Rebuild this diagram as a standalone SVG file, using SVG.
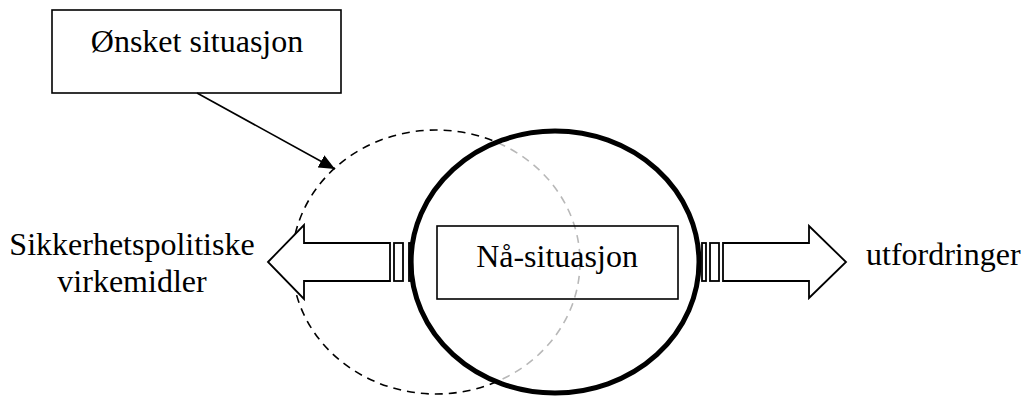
<svg xmlns="http://www.w3.org/2000/svg" width="1021" height="396" viewBox="0 0 1021 396">
  <style>
    .label { font-family: "Liberation Serif", "Times New Roman", serif; font-size: 32px; fill: #000; }
    .box { fill: #fff; stroke: #000; stroke-width: 1.6; }
    .frame { fill: none; stroke: #000; stroke-width: 1.6; }
    .arrow { fill: #fff; stroke: #000; stroke-width: 1.8; stroke-linejoin: miter; }
    .dashed { fill: none; stroke: #000; stroke-width: 1.6; stroke-dasharray: 8 6; }
  </style>
  <defs>
    <marker id="head" viewBox="0 0 10 10" refX="10" refY="5" markerWidth="10" markerHeight="10" markerUnits="userSpaceOnUse" orient="auto">
      <path d="M0,0 L10,5 L0,10 z" fill="#000"/>
    </marker>
    <marker id="headL" viewBox="0 0 16 14" refX="16" refY="7" markerWidth="16" markerHeight="14" markerUnits="userSpaceOnUse" orient="auto">
      <path d="M0,0 L16,7 L0,14 z" fill="#000"/>
    </marker>
  </defs>

  <!-- desired situation: dashed outline -->
  <g id="desired-circle">
    <ellipse class="dashed" cx="436" cy="262" rx="144" ry="132"/>
  </g>

  <!-- striped arrows to the left and right -->
  <g id="arrow-left">
    <polygon class="arrow" points="268,262 304,225 304,243 390,243 390,281 304,281 304,299"/>
    <rect class="arrow" x="394" y="243" width="9" height="38"/>
    <rect class="arrow" x="409" y="243" width="4" height="38"/>
  </g>
  <g id="arrow-right">
    <rect class="arrow" x="702" y="243" width="4" height="38"/>
    <rect class="arrow" x="710" y="243" width="9" height="38"/>
    <polygon class="arrow" points="723,243 809,243 809,226 846,262 809,298 809,281 723,281"/>
  </g>

  <!-- current situation: heavy outline with translucent fill -->
  <g id="current-circle">
    <ellipse cx="555" cy="262" rx="144" ry="131" fill="#fff" fill-opacity="0.72" stroke="#000" stroke-width="5"/>
  </g>

  <g id="current-box">
    <rect class="frame" x="437" y="226" width="241" height="73"/>
    <text class="label" x="557" y="267" text-anchor="middle">Nå-situasjon</text>
  </g>

  <g id="desired-box">
    <rect class="box" x="52" y="10" width="289" height="83"/>
    <text class="label" x="197" y="52" text-anchor="middle">Ønsket situasjon</text>
  </g>

  <g id="means-label">
    <text class="label" x="132" y="255" text-anchor="middle">Sikkerhetspolitiske</text>
    <text class="label" x="132" y="292" text-anchor="middle">virkemidler</text>
  </g>

  <g id="challenges-label">
    <text class="label" x="866" y="265">utfordringer</text>
  </g>

  <g id="connectors">
    <line x1="197" y1="93" x2="335" y2="169" stroke="#000" stroke-width="1.6" marker-end="url(#headL)"/>
  </g>
</svg>
